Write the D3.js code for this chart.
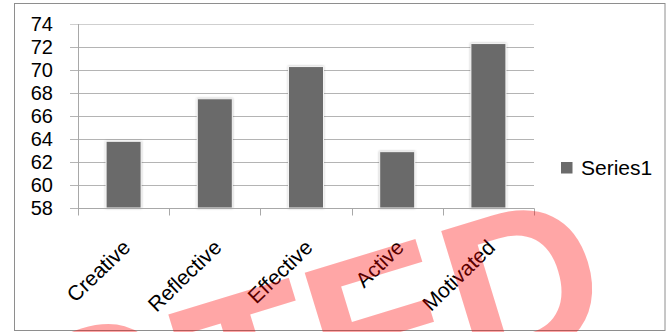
<!DOCTYPE html>
<html>
<head>
<meta charset="utf-8">
<script src="https://cdn.jsdelivr.net/npm/d3@7"></script>
<style>
  html, body { margin: 0; padding: 0; background: #fff; }
  svg { display: block; }
</style>
</head>
<body>
<svg id="chart" width="669" height="332"></svg>
<script>
// Scores per learner trait
const categories = ["Creative", "Reflective", "Effective", "Active", "Motivated"];
const series1 = [63.8, 67.5, 70.3, 62.9, 72.3];
const yTicks = [58, 60, 62, 64, 66, 68, 70, 72, 74];
const seriesName = "Series1";
const stampWord = ["REDAC", "TED"];

const svg = d3.select("#chart");
const plot = { left: 78, right: 534, top: 24, bottom: 208 };
const font = "'Liberation Sans', Arial, sans-serif";

// outer frame
svg.append("rect")
  .attr("x", 14.5).attr("y", 3.5)
  .attr("width", 650.5).attr("height", 327)
  .attr("fill", "#fff").attr("stroke", "#8e8e8e").attr("stroke-width", 1);

const x = d3.scaleBand()
  .domain(categories)
  .range([plot.left, plot.right])
  .paddingInner(0.616)
  .paddingOuter(0.308);

const y = d3.scaleLinear()
  .domain([58, 74])
  .range([plot.bottom, plot.top]);

// soft halo around bars
const defs = svg.append("defs");
const f = defs.append("filter").attr("id", "halo")
  .attr("x", "-30%").attr("y", "-10%").attr("width", "160%").attr("height", "120%");
f.append("feDropShadow")
  .attr("dx", 0).attr("dy", 0).attr("stdDeviation", 1.3)
  .attr("flood-color", "#000").attr("flood-opacity", 0.28);

// horizontal gridlines with left tick stubs
svg.append("g").selectAll("line")
  .data(yTicks)
  .join("line")
  .attr("x1", plot.left - 8).attr("x2", plot.right)
  .attr("y1", d => Math.round(y(d)) + 0.5)
  .attr("y2", d => Math.round(y(d)) + 0.5)
  .attr("stroke", d => d === 74 ? "#cfcfcf" : "#b4b4b4")
  .attr("stroke-width", 1);

// bars
svg.append("g").selectAll("rect")
  .data(categories.map((c, i) => ({ c, v: series1[i] })))
  .join("rect")
  .attr("x", d => x(d.c))
  .attr("y", d => y(d.v))
  .attr("width", x.bandwidth())
  .attr("height", d => plot.bottom - y(d.v))
  .attr("fill", "#6b6b6b")
  .attr("stroke", "#f4f4f4")
  .attr("stroke-width", 1)
  .attr("filter", "url(#halo)");

// y axis line
svg.append("line")
  .attr("x1", plot.left + 0.5).attr("x2", plot.left + 0.5)
  .attr("y1", plot.top).attr("y2", plot.bottom + 0.5)
  .attr("stroke", "#a8a8a8");

// x axis with boundary ticks
const xAxisY = Math.round(plot.bottom) + 0.5;
svg.append("line")
  .attr("x1", plot.left).attr("x2", plot.right + 0.5)
  .attr("y1", xAxisY).attr("y2", xAxisY)
  .attr("stroke", "#a8a8a8");
const bounds = categories.map(c => x(c) - x.step() * x.paddingInner() / 2).concat([plot.right]);
svg.append("g").selectAll("line")
  .data(bounds)
  .join("line")
  .attr("x1", d => Math.round(d) + 0.5).attr("x2", d => Math.round(d) + 0.5)
  .attr("y1", xAxisY).attr("y2", xAxisY + 7)
  .attr("stroke", "#a8a8a8");

// y tick labels
svg.append("g").selectAll("text")
  .data(yTicks)
  .join("text")
  .attr("x", 53)
  .attr("y", d => y(d))
  .attr("dy", "0.36em")
  .attr("text-anchor", "end")
  .attr("font-family", font)
  .attr("font-size", 20)
  .attr("fill", "#000")
  .text(d => d);

// rotated category labels
svg.append("g").selectAll("text")
  .data(categories)
  .join("text")
  .attr("transform", d => `translate(${x(d) + x.bandwidth() / 2 + 8},249) rotate(-44)`)
  .attr("text-anchor", "end")
  .attr("font-family", font)
  .attr("font-size", 21)
  .attr("fill", "#000")
  .text(d => d);

// legend
const lg = svg.append("g").attr("transform", "translate(561,162)");
lg.append("rect").attr("width", 11.5).attr("height", 11.5).attr("fill", "#6b6b6b");
lg.append("text")
  .attr("x", 20).attr("y", 5.8).attr("dy", "0.36em")
  .attr("font-family", font).attr("font-size", 21)
  .attr("fill", "#000")
  .text(seriesName);

// translucent stamp across the lower part
const stamp = svg.append("g")
  .attr("transform", "translate(209,456) rotate(-17)")
  .attr("font-family", "'Liberation Sans', Arial, sans-serif")
  .attr("font-weight", "bold")
  .attr("font-size", 214)
  .attr("fill", "rgba(255,0,0,0.35)");
stamp.append("text").attr("x", -12).attr("y", -10).attr("text-anchor", "end").text(stampWord[0]);
stamp.append("text").attr("x", 0).attr("y", 0).attr("text-anchor", "start").text(stampWord[1]);
</script>
</body>
</html>
